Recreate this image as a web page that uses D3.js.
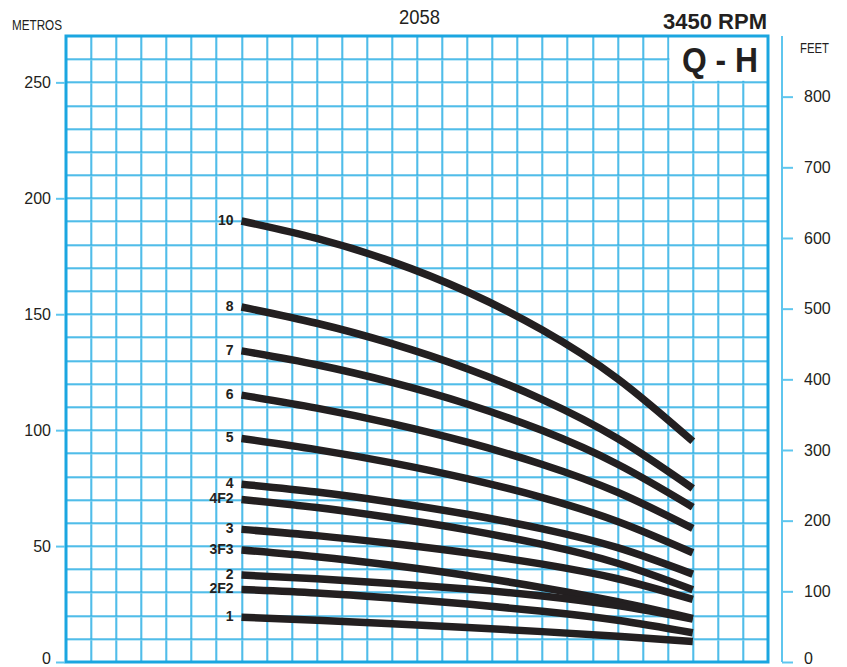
<!DOCTYPE html>
<html>
<head>
<meta charset="utf-8">
<script src="https://cdn.jsdelivr.net/npm/d3@7"></script>
<style>
  html, body { margin: 0; padding: 0; background: #fff; }
  svg { display: block; }
  text { font-family: "Liberation Sans", Arial, Helvetica, sans-serif; fill: #231f20; }
</style>
</head>
<body>
<svg id="chart" width="847" height="667"></svg>
<script>
// ---- data ----
const title = "2058";
const speedLabel = "3450 RPM";
const chartType = "Q - H";
const leftAxisLabel = "METROS";
const rightAxisLabel = "FEET";
const meterTicks = [0, 50, 100, 150, 200, 250];
const feetTicks = [0, 100, 200, 300, 400, 500, 600, 700, 800];
const gridColumns = 28;          // flow grid divisions (no labels shown)
const gridRowStep = 10;          // metres per grid row
const flowPoints = [7, 10, 13, 16, 19, 22, 25];
const stageNames = ["10", "8", "7", "6", "5", "4", "4F2", "3", "3F3", "2", "2F2", "1"];
const head10  = [190.2, 182.7, 172.7, 159.7, 143.2, 122.2, 95.2];
const head8   = [153.1, 146.1, 137.3, 126.5, 113.2, 96.4, 74.9];
const head7   = [134.2, 128.2, 120.6, 111.3, 99.8, 85.3, 66.8];
const head6   = [115.1, 109.5, 102.8, 94.8, 85.2, 73.2, 57.6];
const head5   = [96.4, 91.6, 85.9, 79.1, 70.9, 60.6, 47.1];
const head4   = [76.7, 73.3, 68.9, 63.7, 57.4, 49.3, 37.9];
const head4F2 = [70.1, 66.6, 62.2, 57.0, 50.7, 42.6, 31.2];
const head3   = [57.2, 54.5, 51.1, 47.1, 42.2, 35.9, 27.0];
const head3F3 = [48.3, 45.4, 41.7, 37.3, 32.1, 26.0, 18.8];
const head2   = [37.5, 35.9, 33.9, 31.5, 28.5, 24.3, 18.5];
const head2F2 = [31.3, 29.8, 27.6, 25.0, 21.9, 18.0, 12.6];
const head1   = [19.3, 18.0, 16.5, 14.9, 13.1, 11.1, 8.8];
const heads = [head10, head8, head7, head6, head5, head4, head4F2, head3, head3F3, head2, head2F2, head1];
const M_TO_FT = 3.28084;
const maxMeters = 270;

// ---- layout ----
const L = 66, R = 768, T = 36, B = 662;
const svg = d3.select("#chart");
const x = d3.scaleLinear().domain([0, gridColumns]).range([L, R]);
const y = d3.scaleLinear().domain([0, maxMeters]).range([B, T]);
const yFt = d3.scaleLinear().domain([0, maxMeters * M_TO_FT]).range([B, T]);

const light = "#86d4f2", dark = "#1ba6e0";

// grid
const g = svg.append("g");
const cols = d3.range(1, gridColumns);
const rows = d3.range(gridRowStep, maxMeters, gridRowStep);
cols.forEach(c => {
  const xx = Math.round(x(c));
  g.append("line").attr("x1", xx + 0.6).attr("x2", xx + 0.6).attr("y1", T).attr("y2", B)
    .attr("stroke", light).attr("stroke-width", 1.8);
  g.append("line").attr("x1", xx).attr("x2", xx).attr("y1", T).attr("y2", B)
    .attr("stroke", dark).attr("stroke-width", 1);
});
rows.forEach(r => {
  const yy = Math.round(y(r));
  g.append("line").attr("x1", L).attr("x2", R).attr("y1", yy + 0.6).attr("y2", yy + 0.6)
    .attr("stroke", light).attr("stroke-width", 1.8);
  g.append("line").attr("x1", L).attr("x2", R).attr("y1", yy).attr("y2", yy)
    .attr("stroke", dark).attr("stroke-width", 1);
});

// Q-H box (white)
svg.append("rect")
  .attr("x", Math.round(x(24)) + 1.5).attr("y", T)
  .attr("width", R - Math.round(x(24)) - 1.5).attr("height", Math.round(y(250)) - T - 1.2)
  .attr("fill", "#fff");

// border
svg.append("rect").attr("x", L).attr("y", T).attr("width", R - L).attr("height", B - T)
  .attr("fill", "none").attr("stroke", dark).attr("stroke-width", 3);

// left axis
const leftAxis = d3.axisLeft(y).tickValues(meterTicks).tickSize(9).tickPadding(5).tickFormat(d3.format("d"));
const la = svg.append("g").attr("transform", `translate(${L - 1},0)`).call(leftAxis);
la.select(".domain").remove();
la.selectAll(".tick line").attr("stroke", "#5fc6ee").attr("stroke-width", 2);
la.selectAll(".tick text").attr("font-size", 16).attr("fill", "#231f20")
  .attr("font-family", "Liberation Sans, Arial, sans-serif")
  .attr("dy", d => d === 0 ? "0.1em" : "0.32em");

// right axis (feet)
const RX = 782;
const rightAxis = d3.axisRight(yFt).tickValues(feetTicks).tickSize(11).tickPadding(11).tickFormat(d3.format("d"));
const ra = svg.append("g").attr("transform", `translate(${RX},0)`).call(rightAxis);
ra.select(".domain").attr("stroke", "#5fc6ee").attr("stroke-width", 2).attr("d", `M0,${T}V${B}`);
ra.selectAll(".tick line").attr("stroke", "#5fc6ee").attr("stroke-width", 2);
ra.selectAll(".tick text").attr("font-size", 16).attr("fill", "#231f20")
  .attr("font-family", "Liberation Sans, Arial, sans-serif")
  .attr("dy", d => d === 0 ? "0.1em" : "0.32em");

// curves
const line = d3.line().x(d => x(d[0])).y(d => y(d[1])).curve(d3.curveNatural);
const cg = svg.append("g");
heads.forEach((h, i) => {
  const pts = flowPoints.map((f, j) => [f, h[j]]);
  cg.append("path").attr("d", line(pts)).attr("fill", "none")
    .attr("stroke", "#231f20").attr("stroke-width", 7.5).attr("stroke-linecap", "butt");
  cg.append("text").attr("x", x(flowPoints[0]) - 8).attr("y", y(h[0]) + 4)
    .attr("text-anchor", "end").attr("font-size", 14).attr("font-weight", "bold")
    .text(stageNames[i]);
});

// texts
svg.append("text").attr("x", 12).attr("y", 29.5).attr("font-size", 14)
  .attr("textLength", 50).attr("lengthAdjust", "spacingAndGlyphs").text(leftAxisLabel);
svg.append("text").attr("x", 800).attr("y", 53).attr("font-size", 14)
  .attr("textLength", 29).attr("lengthAdjust", "spacingAndGlyphs").text(rightAxisLabel);
svg.append("text").attr("x", 399).attr("y", 23.5).attr("font-size", 20).attr("fill", "#333")
  .attr("textLength", 41).attr("lengthAdjust", "spacingAndGlyphs").text(title);
svg.append("text").attr("x", 663).attr("y", 28.5).attr("font-size", 22).attr("font-weight", "bold")
  .attr("textLength", 104).attr("lengthAdjust", "spacingAndGlyphs").text(speedLabel);
svg.append("text").attr("x", 682).attr("y", 72).attr("font-size", 35).attr("font-weight", "bold")
  .attr("textLength", 76).attr("lengthAdjust", "spacingAndGlyphs").text(chartType);
</script>
</body>
</html>
